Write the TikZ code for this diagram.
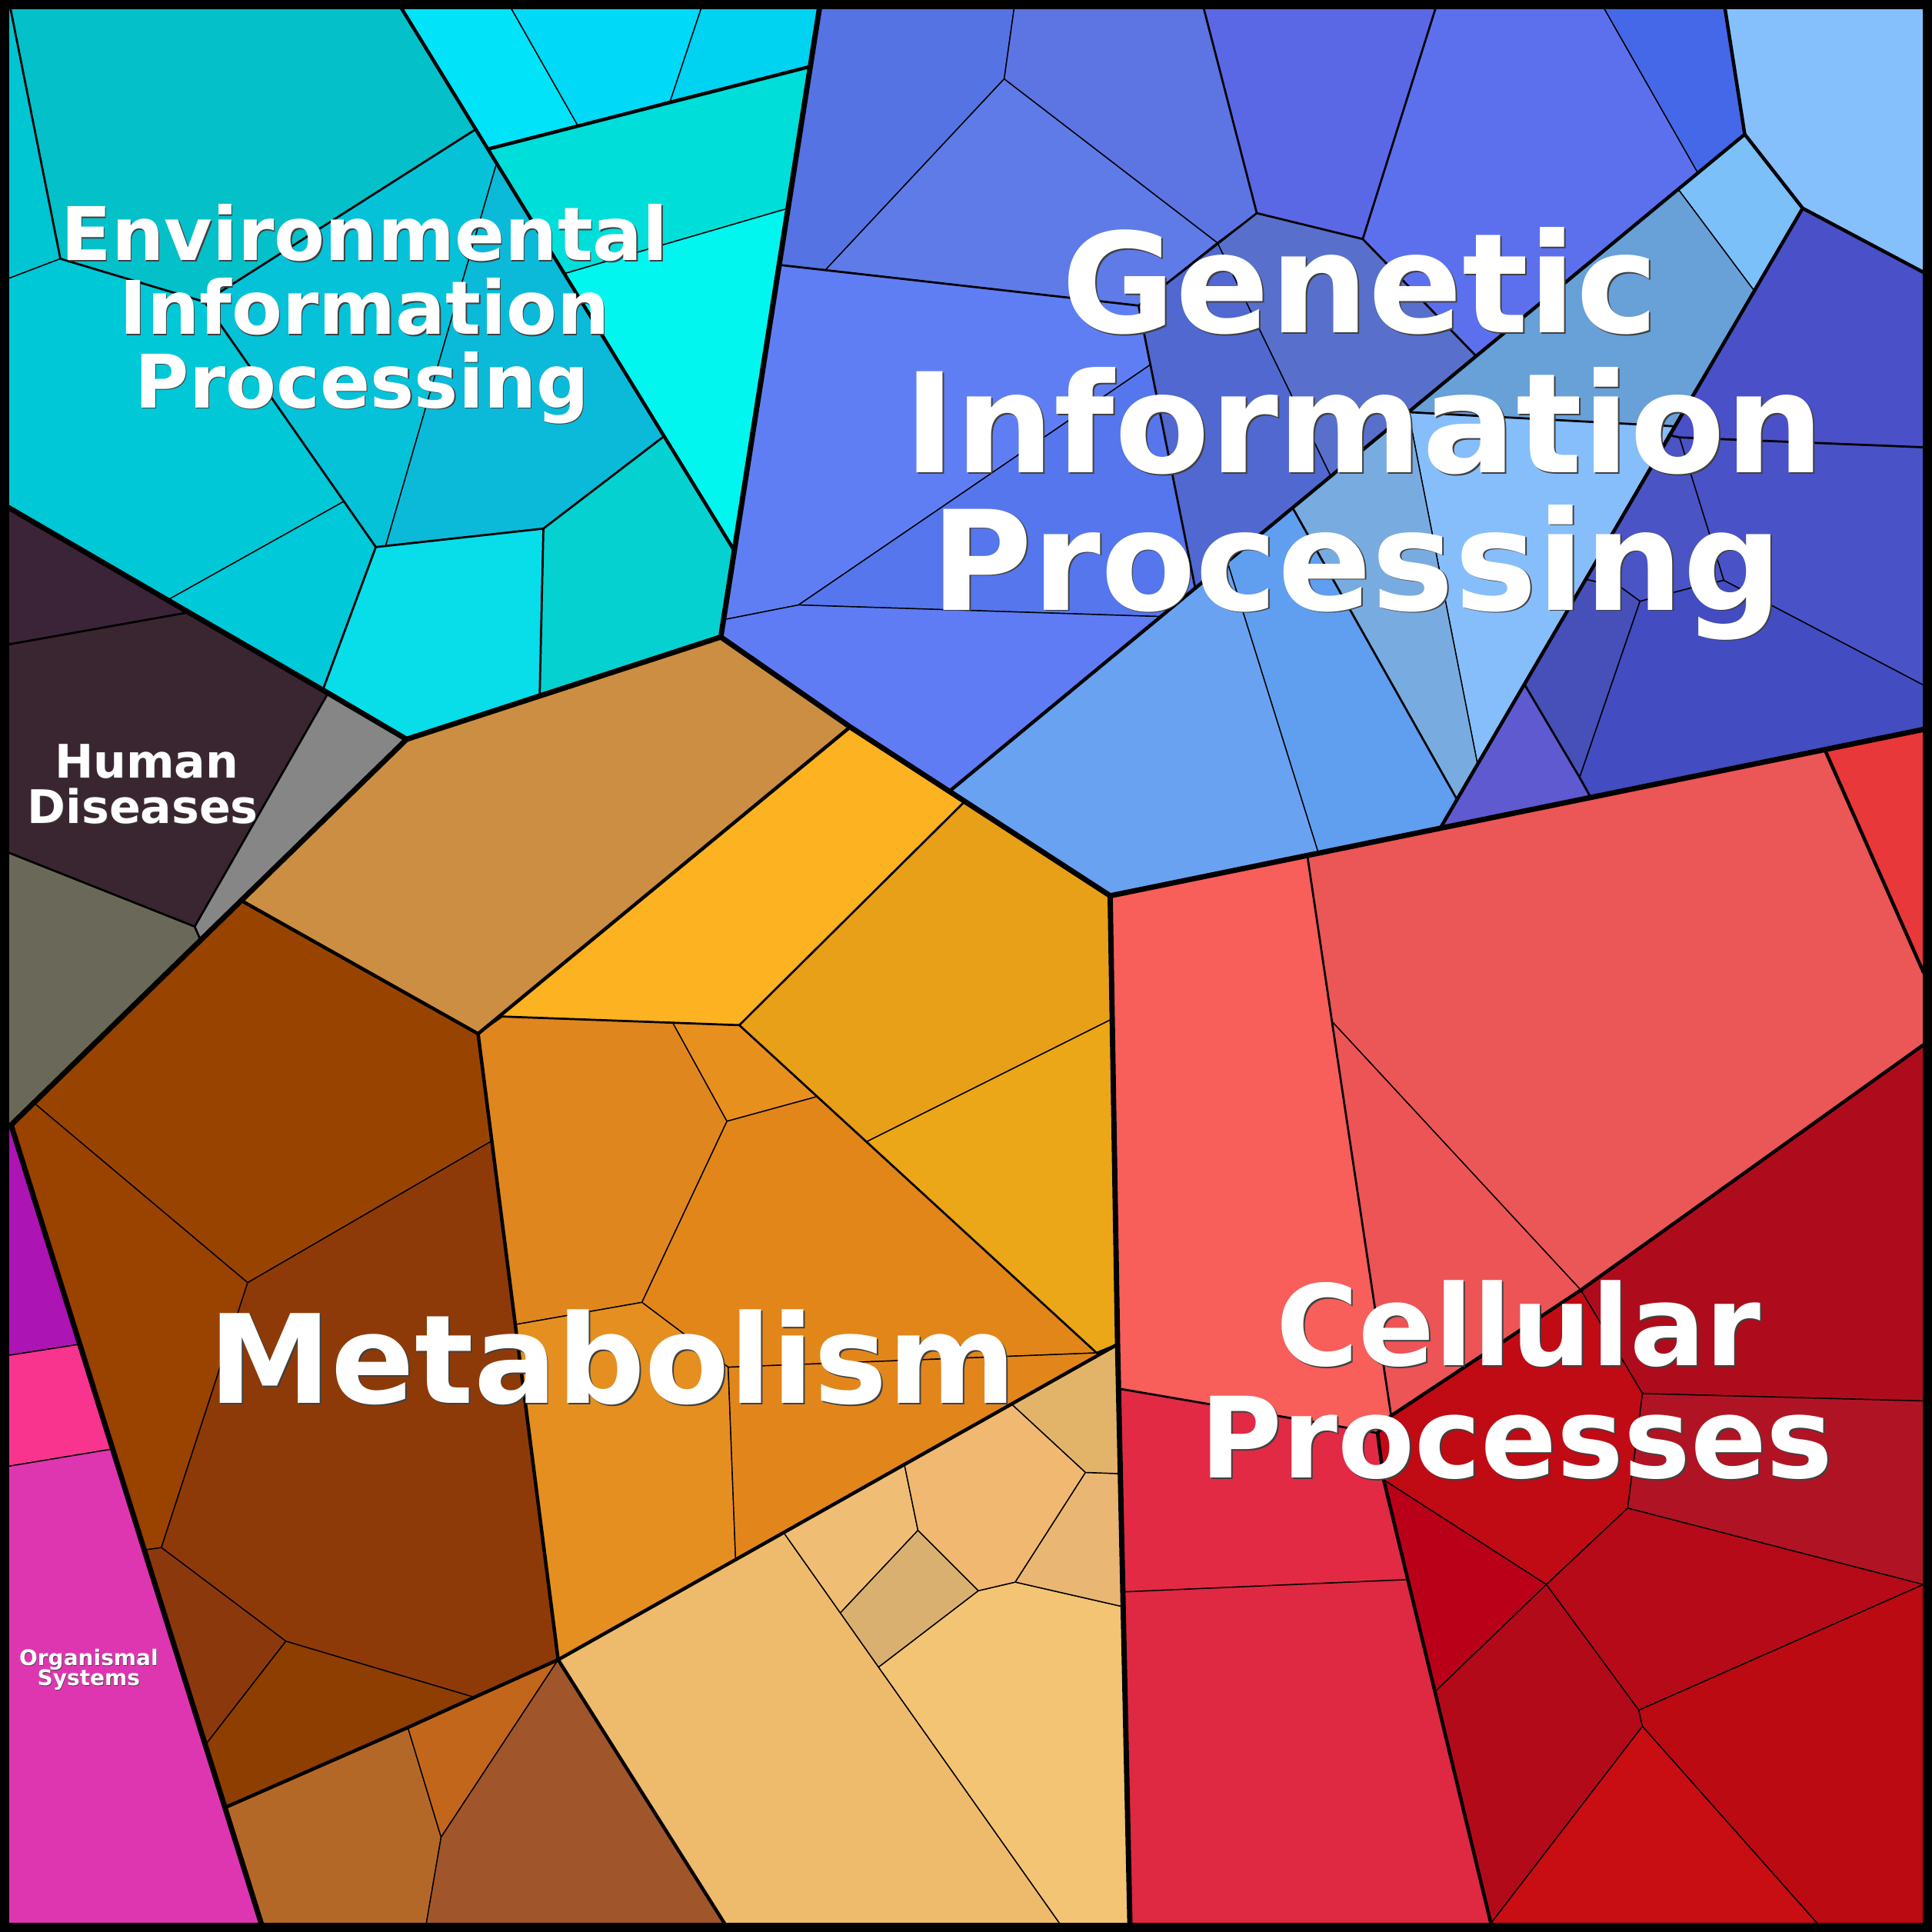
\documentclass[tikz,border=0pt]{standalone}
\usepackage{fontspec}
\setmainfont{DejaVu Sans}
\tikzset{
  cellline/.style={draw=black,line width=0.9pt,line join=round},
  thickln/.style={draw=black,line width=4.3pt,line join=round,line cap=round},
  semiln/.style={draw=black,line width=2.8pt,line join=round,line cap=round},
  midln/.style={draw=black,line width=1.7pt,line join=round,line cap=round},
  lbltext/.style={text=white,anchor=base,inner sep=0pt},
  lblshadow/.style={text=black!75,anchor=base,inner sep=0pt}
}
\newcommand{\cell}[2]{\definecolor{cellfill}{HTML}{#1}\filldraw[cellline,fill=cellfill] #2 -- cycle;}
\newcommand{\lbl}[6]{% name, x, y, size, shadow offset, text
  \node[lblshadow,font=\fontsize{#4}{#4}\selectfont\bfseries] (#1s) at (#2+#5,#3+#5) {#6};
  \node[lbltext,font=\fontsize{#4}{#4}\selectfont\bfseries] (#1) at (#2,#3) {#6};}
\begin{document}
\begin{tikzpicture}[x=1pt,y=-1pt]
\useasboundingbox (0,0) rectangle (1568,1568);
\fill[black] (0,0) rectangle (1568,1568);
% ===== Environmental Information Processing
\cell{04C0C8}{(8.5,7) -- (326,7) -- (386,105) -- (166,245) -- (49,210)}
\cell{00C5D2}{(7,7) -- (8.5,7) -- (49,210) -- (7,226)}
\cell{00C8D6}{(7,226) -- (49,210) -- (166,245) -- (279,407) -- (136,487) -- (7,412)}
\cell{00C9D9}{(279,407) -- (305,444) -- (262,560) -- (136,487)}
\cell{05C2D9}{(166,245) -- (386,105) -- (403,132.6) -- (313,443) -- (305,444)}
\cell{0BBAD8}{(403,132.6) -- (539,354) -- (441,429) -- (313,443)}
\cell{08DDEA}{(305,444) -- (313,443) -- (441,429) -- (438,564) -- (330,600) -- (262,560)}
\cell{05D1D0}{(539,354) -- (596,447) -- (585,517) -- (438,564) -- (441,429)}
\cell{00F6EE}{(458,222) -- (639.6,169) -- (596,447)}
\cell{00DEDA}{(396,121) -- (657.6,54) -- (639.6,169) -- (458,222)}
\cell{00E3F9}{(326,7) -- (415,7) -- (469,102) -- (396,121)}
\cell{00D9F8}{(415,7) -- (569,7) -- (544,82) -- (469,102)}
\cell{00D2F1}{(569,7) -- (665,7) -- (657.6,54) -- (544,82)}
% ===== Genetic Information Processing
\cell{5573E2}{(665,7) -- (823,7) -- (815,64) -- (670,219) -- (632.3,215)}
\cell{5E7BE8}{(815,64) -- (988,197) -- (924,248) -- (670,219)}
\cell{5D74E3}{(823,7) -- (977,7) -- (1020,173) -- (988,197) -- (815,64)}
\cell{5A68E6}{(977,7) -- (1165,7) -- (1106,194) -- (1020,173)}
\cell{5870CC}{(1020,173) -- (1106,194) -- (1198,289) -- (1080,386.5) -- (988,197)}
\cell{5068D0}{(988,197) -- (1080,386.5) -- (970,477.3) -- (924,248)}
\cell{607EF4}{(632.3,215) -- (924,248) -- (933.6,296) -- (648,491) -- (587.1,503)}
\cell{5576EC}{(933.6,296) -- (970,477.3) -- (942,500.4) -- (648,491)}
\cell{5F7CF4}{(587.1,503) -- (648,491) -- (942,500.4) -- (770.5,642.2) -- (690,590) -- (585,517)}
\cell{5C70EE}{(1165,7) -- (1302,7) -- (1378,140.4) -- (1198,289) -- (1106,194)}
\cell{4468E8}{(1302,7) -- (1400,7) -- (1416,109) -- (1378,140.4)}
\cell{86C0FC}{(1400,7) -- (1561,7) -- (1561,221) -- (1463,169) -- (1416,109)}
\cell{7CC0FA}{(1416,109) -- (1463,169) -- (1423.7,236) -- (1362,153.6)}
\cell{68A0D8}{(1362,153.6) -- (1423.7,236) -- (1359.1,346) -- (1143,334.5)}
\cell{86BEFC}{(1143,334.5) -- (1359.1,346) -- (1198.9,619)}
\cell{78ACE0}{(1143,334.5) -- (1198.9,619) -- (1182,648) -- (1049,412)}
\cell{609EF0}{(1049,412) -- (1182,648) -- (1169,672) -- (1070,692.4) -- (996,455.8)}
\cell{6AA2F2}{(996,455.8) -- (1070,692.4) -- (901,727) -- (783,650.4) -- (770.5,642.2)}
\cell{4A50C8}{(1463,169) -- (1561,221) -- (1561,363) -- (1363,355) -- (1354,353)}
\cell{4A52C8}{(1363,355) -- (1561,363) -- (1561,556) -- (1399,471)}
\cell{4A54C4}{(1354,353) -- (1363,355) -- (1399,471) -- (1373,477) -- (1331,488) -- (1316,477) -- (1286.4,470)}
\cell{4650B8}{(1286.4,470) -- (1316,477) -- (1331,488) -- (1282,631) -- (1237,555)}
\cell{434CC0}{(1331,488) -- (1373,477) -- (1399,471) -- (1561,556) -- (1561,592) -- (1291,647.2) -- (1282,631)}
\cell{5F5ACF}{(1169,672) -- (1237,555) -- (1282,631) -- (1291,647.2)}
% ===== Human Diseases
\cell{3C2438}{(7,412) -- (153,497) -- (7,523)}
\cell{3A2630}{(7,523) -- (153,497) -- (266,563) -- (158,752) -- (7,692)}
\cell{868686}{(266,563) -- (330,600) -- (162.8,763) -- (158,752)}
\cell{6A6858}{(7,692) -- (158,752) -- (162.8,763) -- (9,913) -- (7,913)}
% ===== Organismal Systems
\cell{AD14B4}{(7,913) -- (9,913) -- (64.8,1091) -- (7,1100)}
\cell{F8348F}{(7,1100) -- (64.8,1091) -- (91.4,1176) -- (7,1190)}
\cell{DE36B0}{(7,1190) -- (91.4,1176) -- (212,1561) -- (7,1561)}
% ===== Metabolism
\cell{CC8E42}{(330,600) -- (585,517) -- (690,590) -- (388,839) -- (196,731)}
\cell{FDB222}{(690,590) -- (783,650.4) -- (600,832) -- (408,825) -- (388,839)}
\cell{E8A018}{(783,650.4) -- (901,727) -- (902.6,827) -- (703,926.8) -- (600,832)}
\cell{EBA718}{(902.6,827) -- (907,1091) -- (890,1098) -- (703,926.8)}
\cell{DF861E}{(408,825) -- (546,830) -- (590,910) -- (521,1057) -- (418.2,1075) -- (388,839)}
\cell{E8901E}{(546,830) -- (600,832) -- (663,890) -- (590,910)}
\cell{E2861A}{(590,910) -- (663,890) -- (890,1098) -- (591,1109.6) -- (521,1057)}
\cell{E58F20}{(418.2,1075) -- (521,1057) -- (591,1109.6) -- (597,1265.8) -- (453,1347)}
\cell{E2861C}{(591,1109.6) -- (890,1098) -- (907,1091) -- (597,1265.8)}
\cell{984400}{(196,731) -- (388,839) -- (399.1,926) -- (201,1041) -- (27.4,895)}
\cell{9A4200}{(27.4,895) -- (201,1041) -- (131,1256) -- (117.1,1258) -- (9,913)}
\cell{8E3A08}{(201,1041) -- (399.1,926) -- (453,1347) -- (385,1377.5) -- (232,1332) -- (131,1256)}
\cell{8B390C}{(117.1,1258) -- (131,1256) -- (232,1332) -- (166.8,1416)}
\cell{8E3E00}{(166.8,1416) -- (232,1332) -- (385,1377.5) -- (331,1402) -- (182.6,1467)}
\cell{B46828}{(182.6,1467) -- (331,1402) -- (358,1491) -- (346,1561) -- (212,1561)}
\cell{C2661C}{(331,1402) -- (385,1377.5) -- (453,1347) -- (358,1491)}
\cell{A0562A}{(453,1347) -- (588,1561) -- (346,1561) -- (358,1491)}
\cell{EEBA6C}{(453,1347) -- (636,1243.8) -- (682,1309) -- (713,1353) -- (860,1561) -- (588,1561)}
\cell{F2C474}{(713,1353) -- (794,1291) -- (824,1284) -- (911.5,1304) -- (917,1561) -- (860,1561)}
\cell{EFBE74}{(636,1243.8) -- (734,1188.5) -- (745,1242) -- (682,1309)}
\cell{DAB070}{(682,1309) -- (745,1242) -- (794,1291) -- (713,1353)}
\cell{F0B870}{(734,1188.5) -- (821,1139.5) -- (881,1195) -- (824,1284) -- (794,1291) -- (745,1242)}
\cell{EAB674}{(881,1195) -- (909.2,1196) -- (911.5,1304) -- (824,1284)}
\cell{E2B46A}{(821,1139.5) -- (907,1091) -- (909.2,1196) -- (881,1195)}
% ===== Cellular Processes
\cell{F85E5A}{(901,727) -- (1061,694.3) -- (1081,829) -- (1129,1149) -- (1118,1163) -- (908,1127)}
\cell{EB5656}{(1061,694.3) -- (1481,608.4) -- (1561,789) -- (1561,848) -- (1283,1047) -- (1081,829)}
\cell{E8383A}{(1481,608.4) -- (1561,592) -- (1561,789)}
\cell{EC5456}{(1081,829) -- (1283,1047) -- (1129,1149)}
\cell{E22A45}{(908,1127) -- (1118,1163) -- (1123,1201) -- (1142.6,1282) -- (911.3,1292)}
\cell{DF2842}{(911.3,1292) -- (1142.6,1282) -- (1210,1561) -- (917,1561)}
\cell{AE0C1C}{(1283,1047) -- (1561,848) -- (1561,1137) -- (1333,1131)}
\cell{C00A14}{(1129,1149) -- (1283,1047) -- (1333,1131) -- (1321,1224) -- (1255,1286) -- (1123,1201) -- (1118,1163)}
\cell{B01424}{(1333,1131) -- (1561,1137) -- (1561,1286) -- (1321,1224)}
\cell{BA0018}{(1123,1201) -- (1255,1286) -- (1164.6,1373)}
\cell{B60A18}{(1321,1224) -- (1561,1286) -- (1330,1388) -- (1255,1286)}
\cell{B30A1A}{(1164.6,1373) -- (1255,1286) -- (1330,1388) -- (1333,1401) -- (1210,1561)}
\cell{C80E12}{(1210,1561) -- (1333,1401) -- (1475,1561)}
\cell{BB0A12}{(1330,1388) -- (1561,1286) -- (1561,1561) -- (1475,1561) -- (1333,1401)}
% ===== medium lines
\draw[midln] (8.5,7) -- (49,210) -- (166,245) -- (305,444);
\draw[midln] (166,245) -- (386,105);
\draw[midln] (305,444) -- (441,429) -- (539,354);
\draw[midln] (441,429) -- (438,564);
\draw[midln] (305,444) -- (262,560);
\draw[midln] (266,563) -- (158,752) -- (7,692);
\draw[midln] (158,752) -- (162.8,763);
\draw[midln] (7,523) -- (153,497);
\draw[midln] (977,7) -- (1020,173) -- (1106,194) -- (1165,7);
\draw[midln] (1106,194) -- (1198,289);
\draw[midln] (1020,173) -- (924,248) -- (632.3,215);
\draw[midln] (924,248) -- (970,477.3);
\draw[midln] (1143,334.5) -- (1359.1,346);
\draw[midln] (1049,412) -- (1182,648);
\draw[midln] (1237,555) -- (1282,631) -- (1291,647.2);
\draw[midln] (1354,353) -- (1363,355) -- (1561,363);
\draw[midln] (408,825) -- (600,832) -- (890,1098) -- (907,1091);
\draw[midln] (783,650.4) -- (600,832);
\draw[midln] (1061,694.3) -- (1081,829) -- (1129,1149);
\draw[midln] (908,1127) -- (1118,1163);
% ===== semi-thick lines
\draw[semiln] (326,7) -- (596,447);
\draw[semiln] (396,121) -- (657.6,54);
\draw[semiln] (1416,109) -- (770.5,642.2);
\draw[semiln] (1463,169) -- (1169,672);
\draw[semiln] (1400,7) -- (1416,109) -- (1463,169) -- (1561,221);
\draw[semiln] (690,590) -- (388,839) -- (196,731);
\draw[semiln] (388,839) -- (453,1347);
\draw[semiln] (453,1347) -- (907,1091);
\draw[semiln] (453,1347) -- (385,1377.5) -- (331,1402) -- (182.6,1467);
\draw[semiln] (453,1347) -- (588,1561);
\draw[semiln] (1561,848) -- (1283,1047) -- (1129,1149) -- (1118,1163) -- (1123,1201) -- (1210,1561);
\draw[semiln] (1481,608.4) -- (1561,789);
% ===== main boundaries
\draw[thickln] (665,7) -- (585,517);
\draw[thickln] (585,517) -- (330,600);
\draw[thickln] (7,412) -- (136,487) -- (262,560) -- (330,600);
\draw[thickln] (330,600) -- (9,913);
\draw[thickln] (9,913) -- (212,1561);
\draw[thickln] (585,517) -- (690,590) -- (901,727);
\draw[thickln] (901,727) -- (1561,592);
\draw[thickln] (901,727) -- (907,1091) -- (917,1561);
% ===== labels
\lbl{eip1}{296}{211.5}{60}{0.8}{Environmental}
\lbl{eip2}{296}{271.5}{60}{0.8}{Information}
\lbl{eip3}{294}{331}{60}{0.8}{Processing}
\lbl{gip1}{1104}{270}{112.5}{1.2}{Genetic}
\lbl{gip2}{1107}{383.5}{112.5}{1.2}{Information}
\lbl{gip3}{1101}{495}{112.5}{1.2}{Processing}
\lbl{hd1}{119}{631.4}{37.5}{0.6}{Human}
\lbl{hd2}{116}{668.2}{37.5}{0.6}{Diseases}
\lbl{met}{497}{1139}{100}{1.2}{Metabolism}
\lbl{cp1}{1232.5}{1108}{91}{1.2}{Cellular}
\lbl{cp2}{1231}{1199.5}{91}{1.2}{Processes}
\lbl{os1}{72}{1351.7}{17.5}{0.4}{Organismal}
\lbl{os2}{72}{1367.9}{17.5}{0.4}{Systems}
\end{tikzpicture}
\end{document}
